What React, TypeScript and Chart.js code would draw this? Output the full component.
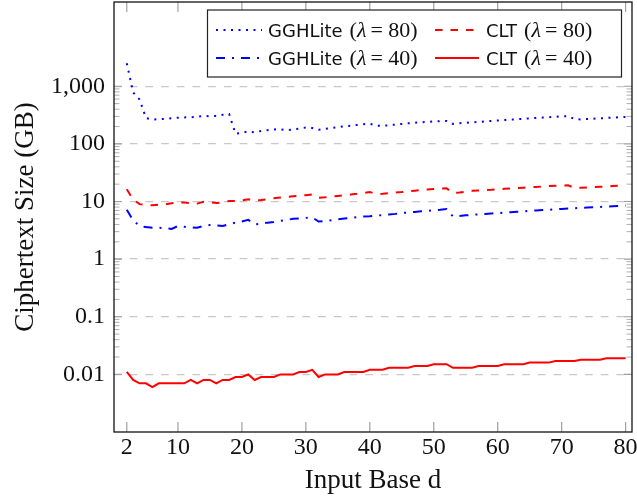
import React, { useEffect, useRef } from 'react';
import { Chart, registerables } from 'chart.js';

Chart.register(...registerables);

// ---- data ----
const inputBase = [
  2, 3, 4, 5, 6, 7, 8, 9, 10, 11,
  12, 13, 14, 15, 16, 17, 18, 19, 20, 21,
  22, 23, 24, 25, 26, 27, 28, 29, 30, 31,
  32, 33, 34, 35, 36, 37, 38, 39, 40, 41,
  42, 43, 44, 45, 46, 47, 48, 49, 50, 51,
  52, 53, 54, 55, 56, 57, 58, 59, 60, 61,
  62, 63, 64, 65, 66, 67, 68, 69, 70, 71,
  72, 73, 74, 75, 76, 77, 78, 79, 80,
];

const gghLite80 = [
  2500, 780, 590, 280, 265, 268, 272, 280, 285, 288,
  290, 295, 307, 302, 305, 320, 330, 150, 155, 165,
  158, 168, 173, 178, 180, 172, 178, 185, 192, 188,
  176, 183, 188, 195, 202, 207, 213, 220, 224, 208,
  205, 211, 216, 222, 228, 232, 237, 241, 245, 248,
  250, 222, 228, 233, 237, 240, 245, 250, 255, 259,
  264, 268, 273, 277, 282, 286, 290, 295, 300, 304,
  270, 266, 270, 274, 278, 282, 286, 290, 294,
];

const clt80 = [
  16.3, 10.8, 9.0, 8.7, 8.6, 8.8, 8.9, 9.3, 9.6, 9.6,
  9.4, 9.2, 9.9, 9.7, 9.4, 9.7, 10.2, 10.2, 10.5, 10.9,
  10.4, 10.6, 11.0, 11.4, 11.7, 12.0, 12.3, 12.6, 12.9, 13.2,
  11.6, 11.8, 12.1, 12.5, 12.9, 13.2, 13.6, 14.1, 14.6, 13.5,
  13.6, 13.9, 14.3, 14.6, 15.0, 15.4, 15.8, 16.2, 16.5, 16.8,
  16.9, 14.1, 14.4, 14.8, 15.3, 15.6, 15.8, 16.0, 16.3, 16.6,
  16.8, 17.1, 17.4, 17.6, 17.9, 18.2, 18.5, 18.8, 19.0, 19.1,
  17.2, 17.4, 17.6, 17.8, 18.0, 18.3, 18.6, 18.8, 19.1,
];

const gghLite40 = [
  7.2, 4.7, 3.75, 3.6, 3.5, 3.5, 3.45, 3.35, 3.75, 3.65,
  3.55, 3.5, 3.75, 3.9, 3.85, 3.75, 4.05, 4.3, 4.5, 4.8,
  4.0, 4.1, 4.3, 4.4, 4.6, 4.8, 5.0, 5.1, 5.2, 5.3,
  4.5, 4.6, 4.75, 4.9, 5.05, 5.2, 5.35, 5.5, 5.55, 5.7,
  5.8, 5.95, 6.1, 6.3, 6.45, 6.6, 6.75, 6.9, 7.05, 7.2,
  7.4, 5.5, 5.6, 5.75, 5.85, 6.0, 6.1, 6.2, 6.3, 6.4,
  6.5, 6.65, 6.75, 6.85, 7.0, 7.1, 7.2, 7.3, 7.45, 7.55,
  7.65, 7.75, 7.85, 7.95, 8.05, 8.15, 8.3, 8.4, 8.55,
];

const clt40 = [
  0.011, 0.008, 0.007, 0.007, 0.006, 0.007, 0.007, 0.007, 0.007, 0.007,
  0.008, 0.007, 0.008, 0.008, 0.007, 0.008, 0.008, 0.009, 0.009, 0.01,
  0.008, 0.009, 0.009, 0.009, 0.01, 0.01, 0.01, 0.011, 0.011, 0.012,
  0.009, 0.01, 0.01, 0.01, 0.011, 0.011, 0.011, 0.011, 0.012, 0.012,
  0.012, 0.013, 0.013, 0.013, 0.013, 0.014, 0.014, 0.014, 0.015, 0.015,
  0.015, 0.013, 0.013, 0.013, 0.013, 0.014, 0.014, 0.014, 0.014, 0.015,
  0.015, 0.015, 0.015, 0.016, 0.016, 0.016, 0.016, 0.017, 0.017, 0.017,
  0.017, 0.018, 0.018, 0.018, 0.018, 0.019, 0.019, 0.019, 0.019,
];

const xTickValues = [2, 10, 20, 30, 40, 50, 60, 70, 80];
const yTickValues = [0.01, 0.1, 1, 10, 100, 1000];
const yTickLabels = ['0.01', '0.1', '1', '10', '100', '1,000'];

const seriesNames = ['GGHLite', 'CLT', 'GGHLite', 'CLT'];
const seriesLambda = ['80', '80', '40', '40'];

const SERIF = '"Liberation Serif", "Times New Roman", serif';
const SANS = '"DejaVu Sans", sans-serif';

const toPoints = (ys: number[]) => inputBase.map((x, i) => ({ x, y: ys[i] }));

const frameAndTicks = {
  id: 'frameAndTicks',
  afterDatasetsDraw(chart: any) {
    const { ctx, chartArea: a, scales } = chart;
    const xs = scales.x;
    const ys = scales.y;
    ctx.save();
    ctx.setLineDash([]);
    ctx.strokeStyle = '#a0a0a0';
    ctx.lineWidth = 1.2;
    ctx.beginPath();
    for (const v of xTickValues) {
      const px = xs.getPixelForValue(v);
      ctx.moveTo(px, a.bottom);
      ctx.lineTo(px, a.bottom - 10);
      ctx.moveTo(px, a.top);
      ctx.lineTo(px, a.top + 10);
    }
    for (const v of yTickValues) {
      const py = ys.getPixelForValue(v);
      ctx.moveTo(a.left, py);
      ctx.lineTo(a.left + 8, py);
      ctx.moveTo(a.right, py);
      ctx.lineTo(a.right - 8, py);
    }
    ctx.stroke();
    ctx.strokeStyle = '#b0b0b0';
    ctx.lineWidth = 1;
    ctx.beginPath();
    for (let i = 0; i < yTickValues.length - 1; i++) {
      for (let k = 2; k <= 9; k++) {
        const py = ys.getPixelForValue(yTickValues[i] * k);
        ctx.moveTo(a.left, py);
        ctx.lineTo(a.left + 5.5, py);
        ctx.moveTo(a.right, py);
        ctx.lineTo(a.right - 5.5, py);
      }
    }
    ctx.stroke();
    ctx.strokeStyle = '#111';
    ctx.lineWidth = 1.3;
    ctx.strokeRect(a.left, a.top, a.right - a.left, a.bottom - a.top);
    ctx.restore();
  },
};

const boxLegend = {
  id: 'boxLegend',
  afterDraw(chart: any) {
    const { ctx } = chart;
    const box = { left: 207.5, top: 10, right: 621.5, bottom: 77 };
    const cols = [{ sx: 216, ex: 262, tx: 268 }, { sx: 435, ex: 479, tx: 486 }];
    const rows = [30, 58];
    ctx.save();
    ctx.fillStyle = '#fff';
    ctx.fillRect(box.left, box.top, box.right - box.left, box.bottom - box.top);
    ctx.strokeStyle = '#222';
    ctx.lineWidth = 1.2;
    ctx.setLineDash([]);
    ctx.strokeRect(box.left, box.top, box.right - box.left, box.bottom - box.top);
    chart.data.datasets.forEach((ds: any, i: number) => {
      const c = cols[i % 2];
      const y = rows[Math.floor(i / 2)];
      ctx.strokeStyle = ds.borderColor;
      ctx.lineWidth = ds.borderWidth;
      ctx.lineCap = 'butt';
      ctx.setLineDash(ds.borderDash || []);
      ctx.beginPath();
      ctx.moveTo(c.sx, y);
      ctx.lineTo(c.ex, y);
      ctx.stroke();
      ctx.setLineDash([]);
      ctx.fillStyle = '#111';
      ctx.textBaseline = 'alphabetic';
      const base = y + 6.5;
      ctx.font = `18px ${SANS}`;
      const name = seriesNames[i];
      ctx.fillText(name, c.tx, base);
      let x = c.tx + ctx.measureText(name).width + 7;
      ctx.font = `22px ${SERIF}`;
      ctx.fillText('(', x, base);
      x += ctx.measureText('(').width;
      ctx.font = `italic 22px ${SERIF}`;
      ctx.fillText('λ', x, base);
      x += ctx.measureText('λ').width + 4;
      ctx.font = `22px ${SERIF}`;
      const rest = `= ${seriesLambda[i]})`;
      ctx.fillText(rest, x, base);
    });
    ctx.restore();
  },
};

export default function App() {
  const ref = useRef<HTMLCanvasElement>(null);

  useEffect(() => {
    const canvas = ref.current;
    if (!canvas) return;
    const chart = new Chart(canvas, {
      type: 'line',
      data: {
        datasets: [
          {
            label: 'GGHLite (λ = 80)',
            data: toPoints(gghLite80),
            borderColor: '#0000ff',
            borderWidth: 2,
            borderDash: [2, 5.5],
            borderCapStyle: 'butt',
            pointRadius: 0,
            tension: 0,
            fill: false,
          },
          {
            label: 'CLT (λ = 80)',
            data: toPoints(clt80),
            borderColor: '#ff0000',
            borderWidth: 2,
            borderDash: [7.5, 8],
            pointRadius: 0,
            tension: 0,
            fill: false,
          },
          {
            label: 'GGHLite (λ = 40)',
            data: toPoints(gghLite40),
            borderColor: '#0000ff',
            borderWidth: 2,
            borderDash: [9, 7, 2, 7],
            pointRadius: 0,
            tension: 0,
            fill: false,
          },
          {
            label: 'CLT (λ = 40)',
            data: toPoints(clt40),
            borderColor: '#ff0000',
            borderWidth: 2,
            pointRadius: 0,
            tension: 0,
            fill: false,
          },
        ],
      } as any,
      options: {
        animation: false,
        responsive: false,
        maintainAspectRatio: false,
        layout: { padding: { top: 2, right: 5, left: 0, bottom: 0 } },
        plugins: {
          legend: { display: false },
          tooltip: { enabled: false },
        },
        scales: {
          x: {
            type: 'linear',
            min: 0,
            max: 81,
            afterBuildTicks: (s: any) => {
              s.ticks = xTickValues.map((v) => ({ value: v }));
            },
            afterFit: (s: any) => {
              s.height = 68;
              s.paddingLeft = 0;
              s.paddingRight = 0;
            },
            ticks: {
              autoSkip: false,
              maxRotation: 0,
              padding: 1,
              color: '#111',
              font: { family: SERIF, size: 24 },
            },
            grid: { display: false, drawTicks: false },
            border: { display: false },
            title: {
              display: true,
              text: 'Input Base d',
              color: '#111',
              font: { family: SERIF, size: 27 },
              padding: { top: 0, bottom: 3 },
            },
          },
          y: {
            type: 'logarithmic',
            min: 0.001,
            max: 29000,
            afterBuildTicks: (s: any) => {
              s.ticks = yTickValues.map((v) => ({ value: v }));
            },
            afterFit: (s: any) => {
              s.width = 114;
              s.paddingTop = 0;
              s.paddingBottom = 0;
            },
            ticks: {
              autoSkip: false,
              padding: 9,
              color: '#111',
              font: { family: SERIF, size: 24 },
              callback: (value: any) => {
                const i = yTickValues.indexOf(Number(value));
                return i >= 0 ? yTickLabels[i] : '';
              },
            },
            grid: { color: '#c8c8c8', lineWidth: 1.3, drawTicks: false },
            border: { display: false, dash: [7.7, 8] },
            title: {
              display: true,
              text: 'Ciphertext Size (GB)',
              color: '#111',
              font: { family: SERIF, size: 27 },
              padding: { top: 10, bottom: 0 },
            },
          },
        },
      } as any,
      plugins: [frameAndTicks, boxLegend],
    });
    return () => chart.destroy();
  }, []);

  return (
    <div style={{ position: 'absolute', left: 0, top: 0, width: 637, height: 500, background: '#fff' }}>
      <canvas ref={ref} width={637} height={500} style={{ display: 'block', width: 637, height: 500 }} />
    </div>
  );
}
